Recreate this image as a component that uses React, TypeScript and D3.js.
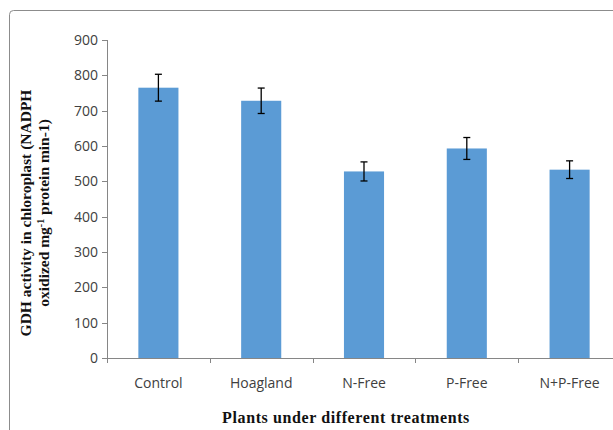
import React from "react";
import * as d3 from "d3";

const categories = ["Control", "Hoagland", "N-Free", "P-Free", "N+P-Free"];
const values = [765, 728, 528, 593, 533];
const errors = [38, 36, 27, 31, 25];
const yTicks = [0, 100, 200, 300, 400, 500, 600, 700, 800, 900];

export default function App() {
  const W = 613, H = 430;
  const x0 = 107, x1 = 621, yTop = 40, yBot = 358;
  const x = d3.scaleBand<string>().domain(categories).range([x0, x1]).paddingInner(0.61).paddingOuter(0.305);
  const xb = d3.scaleBand<string>().domain(categories).range([x0, x1]);
  const y = d3.scaleLinear().domain([0, 900]).range([yBot, yTop]);
  const tickFont = "'Open Sans', sans-serif";
  const serif = "'Liberation Serif', 'Times New Roman', serif";
  return (
    <svg width={W} height={H} style={{ position: "absolute", left: 0, top: 0, background: "#fff" }}>
      <rect x={9.5} y={10.5} width={640} height={440} rx={4} fill="#fff" stroke="#8c8c8c" strokeWidth={1} />
      {/* y axis */}
      <line x1={x0 + 0.5} x2={x0 + 0.5} y1={yTop} y2={yBot} stroke="#868686" />
      {yTicks.map((t) => (
        <g key={t}>
          <line x1={x0 - 5} x2={x0} y1={Math.round(y(t)) + 0.5} y2={Math.round(y(t)) + 0.5} stroke="#868686" />
          <text x={x0 - 9} y={y(t)} dy="0.35em" textAnchor="end" fontFamily={tickFont} fontSize={14} fill="#404040">{t}</text>
        </g>
      ))}
      {/* x axis */}
      <line x1={x0} x2={x1} y1={yBot + 0.5} y2={yBot + 0.5} stroke="#868686" />
      {categories.map((c) => (
        <line key={c} x1={Math.round(xb(c)!) + 0.5} x2={Math.round(xb(c)!) + 0.5} y1={yBot} y2={yBot + 5} stroke="#868686" />
      ))}
      {categories.map((c, i) => (
        <g key={c}>
          <rect x={x(c)} y={y(values[i])} width={x.bandwidth()} height={yBot - y(values[i])} fill="#5b9bd5" />
          <g stroke="#000" strokeWidth={1.3}>
            <line x1={x(c)! + x.bandwidth() / 2} x2={x(c)! + x.bandwidth() / 2} y1={y(values[i] + errors[i])} y2={y(values[i] - errors[i])} />
            <line x1={x(c)! + x.bandwidth() / 2 - 3.5} x2={x(c)! + x.bandwidth() / 2 + 3.5} y1={y(values[i] + errors[i])} y2={y(values[i] + errors[i])} />
            <line x1={x(c)! + x.bandwidth() / 2 - 3.5} x2={x(c)! + x.bandwidth() / 2 + 3.5} y1={y(values[i] - errors[i])} y2={y(values[i] - errors[i])} />
          </g>
          <text x={xb(c)! + xb.bandwidth() / 2} y={383} dy="0.35em" textAnchor="middle" fontFamily={tickFont} fontSize={14} fill="#404040">{c}</text>
        </g>
      ))}
      <text x={346} y={423} textAnchor="middle" fontFamily={serif} fontWeight="bold" fontSize={16} letterSpacing={0.6} fill="#111">Plants under different treatments</text>
      <g transform="translate(26,213) rotate(-90)" fontFamily={serif} fontWeight="bold" fontSize={15.5} fill="#111">
        <text x={0} y={0} dy="0.35em" textAnchor="middle">GDH activity in chloroplast (NADPH</text>
        <text x={0} y={18} dy="0.35em" textAnchor="middle">
          oxidized mg<tspan fontSize={10} dy="-5">-1</tspan><tspan dy="5"> protein min-1)</tspan>
        </text>
      </g>
    </svg>
  );
}
